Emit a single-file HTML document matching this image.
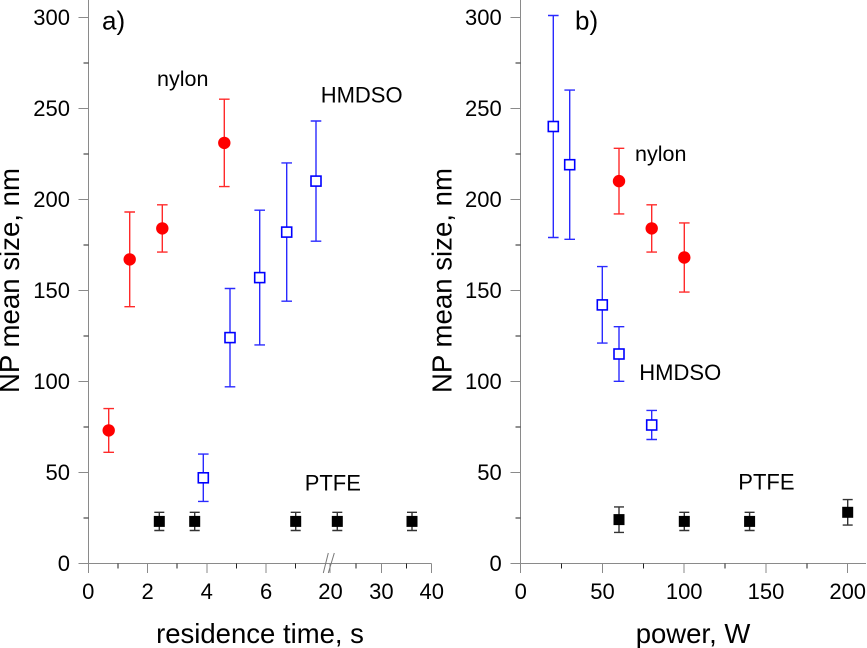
<!DOCTYPE html>
<html>
<head>
<meta charset="utf-8">
<style>
  html, body { margin:0; padding:0; background:#fff; }
  svg { display:block; }
  text { font-family: "Liberation Sans", Arial, sans-serif; fill:#000; }
</style>
</head>
<body>
<svg width="867" height="648" viewBox="0 0 867 648" xmlns="http://www.w3.org/2000/svg">
  <rect x="0" y="0" width="867" height="648" fill="#fff"/>

  <!-- ================= LEFT PANEL ================= -->
  <g shape-rendering="crispEdges">
    <line x1="88.3" y1="0" x2="88.3" y2="573" stroke="#8a8a8a" stroke-width="1"/>
    <line x1="78.3" y1="563.3" x2="431.7" y2="563.3" stroke="#8a8a8a" stroke-width="1"/>
    <g stroke="#8a8a8a" stroke-width="1">
      <line x1="78.3" y1="17.3" x2="88.3" y2="17.3"/>
      <line x1="78.3" y1="108.3" x2="88.3" y2="108.3"/>
      <line x1="78.3" y1="199.3" x2="88.3" y2="199.3"/>
      <line x1="78.3" y1="290.3" x2="88.3" y2="290.3"/>
      <line x1="78.3" y1="381.3" x2="88.3" y2="381.3"/>
      <line x1="78.3" y1="472.3" x2="88.3" y2="472.3"/>
    </g>
    <g stroke="#222" stroke-width="1">
      <line x1="83.3" y1="62.8" x2="88.3" y2="62.8"/>
      <line x1="83.3" y1="153.8" x2="88.3" y2="153.8"/>
      <line x1="83.3" y1="244.8" x2="88.3" y2="244.8"/>
      <line x1="83.3" y1="335.8" x2="88.3" y2="335.8"/>
      <line x1="83.3" y1="426.8" x2="88.3" y2="426.8"/>
      <line x1="83.3" y1="517.8" x2="88.3" y2="517.8"/>
    </g>
    <g stroke="#8a8a8a" stroke-width="1">
      <line x1="147.6" y1="563.3" x2="147.6" y2="573"/>
      <line x1="206.8" y1="563.3" x2="206.8" y2="573"/>
      <line x1="266.1" y1="563.3" x2="266.1" y2="573"/>
      <line x1="330" y1="563.3" x2="330" y2="573"/>
      <line x1="381.4" y1="563.3" x2="381.4" y2="573"/>
      <line x1="431.7" y1="563.3" x2="431.7" y2="573"/>
    </g>
    <g stroke="#222" stroke-width="1">
      <line x1="117.9" y1="563.3" x2="117.9" y2="568.3"/>
      <line x1="177.2" y1="563.3" x2="177.2" y2="568.3"/>
      <line x1="236.5" y1="563.3" x2="236.5" y2="568.3"/>
      <line x1="295.7" y1="563.3" x2="295.7" y2="568.3"/>
      <line x1="356.2" y1="563.3" x2="356.2" y2="568.3"/>
      <line x1="406.6" y1="563.3" x2="406.6" y2="568.3"/>
    </g>
  </g>
  <g stroke="#777" stroke-width="1">
    <line x1="323.3" y1="573" x2="328.3" y2="553"/>
    <line x1="328.3" y1="573" x2="334.3" y2="553"/>
  </g>

  <g font-size="22" text-anchor="end">
    <text x="70" y="25">300</text>
    <text x="70" y="116">250</text>
    <text x="70" y="207">200</text>
    <text x="70" y="298">150</text>
    <text x="70" y="389">100</text>
    <text x="70" y="480">50</text>
    <text x="70" y="571">0</text>
  </g>
  <g font-size="22" text-anchor="middle">
    <text x="88.3" y="599">0</text>
    <text x="147.6" y="599">2</text>
    <text x="206.8" y="599">4</text>
    <text x="266.1" y="599">6</text>
    <text x="330.5" y="599">20</text>
    <text x="381.4" y="599">30</text>
    <text x="431.7" y="599">40</text>
  </g>
  <text x="260" y="643" font-size="27.5" text-anchor="middle">residence time, s</text>
  <text transform="translate(19,280.5) rotate(-90)" font-size="27.5" text-anchor="middle" textLength="225" lengthAdjust="spacingAndGlyphs">NP mean size, nm</text>
  <text x="102" y="29.5" font-size="26">a)</text>
  <text x="157" y="86" font-size="21.5">nylon</text>
  <text x="320.7" y="102.3" font-size="22">HMDSO</text>
  <text x="304.7" y="490.7" font-size="22">PTFE</text>

  <g stroke="#ff2a2a" stroke-width="1.4" fill="none">
    <path d="M108.7 452.3V408.6M103.4 452.3h10.6M103.4 408.6h10.6"/>
    <path d="M129.7 306.7V212M124.4 306.7h10.6M124.4 212h10.6"/>
    <path d="M162.3 252.1V204.8M157 252.1h10.6M157 204.8h10.6"/>
    <path d="M224.3 186.6V99.2M219 186.6h10.6M219 99.2h10.6"/>
  </g>
  <g fill="#ff0000">
    <circle cx="108.7" cy="430.4" r="6.2"/>
    <circle cx="129.7" cy="259.4" r="6.2"/>
    <circle cx="162.3" cy="228.4" r="6.2"/>
    <circle cx="224.3" cy="142.9" r="6.2"/>
  </g>

  <g stroke="#2a2aff" stroke-width="1.4" fill="none">
    <path d="M203.3 501.4V454.1M198 501.4h10.6M198 454.1h10.6"/>
    <path d="M230 386.8V288.5M224.7 386.8h10.6M224.7 288.5h10.6"/>
    <path d="M259.7 344.9V210.2M254.4 344.9h10.6M254.4 210.2h10.6"/>
    <path d="M286.7 301.2V162.9M281.4 301.2h10.6M281.4 162.9h10.6"/>
    <path d="M316 241.2V121M310.7 241.2h10.6M310.7 121h10.6"/>
  </g>
  <g stroke="#0000ff" stroke-width="1.6" fill="#fff">
    <rect x="198.3" y="472.8" width="10" height="10"/>
    <rect x="225" y="332.6" width="10" height="10"/>
    <rect x="254.7" y="272.6" width="10" height="10"/>
    <rect x="281.7" y="227.1" width="10" height="10"/>
    <rect x="311" y="176.1" width="10" height="10"/>
  </g>

  <g stroke="#333" stroke-width="1.4" fill="none">
    <path d="M159.3 530.5V512.3M154.3 530.5h10M154.3 512.3h10"/>
    <path d="M194.7 530.5V512.3M189.7 530.5h10M189.7 512.3h10"/>
    <path d="M295.7 530.5V512.3M290.7 530.5h10M290.7 512.3h10"/>
    <path d="M337.3 530.5V512.3M332.3 530.5h10M332.3 512.3h10"/>
    <path d="M412 530.5V512.3M407 530.5h10M407 512.3h10"/>
  </g>
  <g fill="#000">
    <rect x="153.8" y="515.9" width="11" height="11"/>
    <rect x="189.2" y="515.9" width="11" height="11"/>
    <rect x="290.2" y="515.9" width="11" height="11"/>
    <rect x="331.8" y="515.9" width="11" height="11"/>
    <rect x="406.5" y="515.9" width="11" height="11"/>
  </g>

  <!-- ================= RIGHT PANEL ================= -->
  <g shape-rendering="crispEdges">
    <line x1="520.7" y1="0" x2="520.7" y2="573" stroke="#8a8a8a" stroke-width="1"/>
    <line x1="510.7" y1="563.3" x2="866" y2="563.3" stroke="#8a8a8a" stroke-width="1"/>
    <g stroke="#8a8a8a" stroke-width="1">
      <line x1="510.7" y1="17.3" x2="520.7" y2="17.3"/>
      <line x1="510.7" y1="108.3" x2="520.7" y2="108.3"/>
      <line x1="510.7" y1="199.3" x2="520.7" y2="199.3"/>
      <line x1="510.7" y1="290.3" x2="520.7" y2="290.3"/>
      <line x1="510.7" y1="381.3" x2="520.7" y2="381.3"/>
      <line x1="510.7" y1="472.3" x2="520.7" y2="472.3"/>
    </g>
    <g stroke="#222" stroke-width="1">
      <line x1="515.7" y1="62.8" x2="520.7" y2="62.8"/>
      <line x1="515.7" y1="153.8" x2="520.7" y2="153.8"/>
      <line x1="515.7" y1="244.8" x2="520.7" y2="244.8"/>
      <line x1="515.7" y1="335.8" x2="520.7" y2="335.8"/>
      <line x1="515.7" y1="426.8" x2="520.7" y2="426.8"/>
      <line x1="515.7" y1="517.8" x2="520.7" y2="517.8"/>
    </g>
    <g stroke="#8a8a8a" stroke-width="1">
      <line x1="602.5" y1="563.3" x2="602.5" y2="573"/>
      <line x1="684.2" y1="563.3" x2="684.2" y2="573"/>
      <line x1="766" y1="563.3" x2="766" y2="573"/>
      <line x1="847.7" y1="563.3" x2="847.7" y2="573"/>
    </g>
    <g stroke="#222" stroke-width="1">
      <line x1="561.6" y1="563.3" x2="561.6" y2="568.3"/>
      <line x1="643.3" y1="563.3" x2="643.3" y2="568.3"/>
      <line x1="725.1" y1="563.3" x2="725.1" y2="568.3"/>
      <line x1="806.8" y1="563.3" x2="806.8" y2="568.3"/>
    </g>
  </g>

  <g font-size="22" text-anchor="end">
    <text x="501.7" y="25">300</text>
    <text x="501.7" y="116">250</text>
    <text x="501.7" y="207">200</text>
    <text x="501.7" y="298">150</text>
    <text x="501.7" y="389">100</text>
    <text x="501.7" y="480">50</text>
    <text x="501.7" y="571">0</text>
  </g>
  <g font-size="22" text-anchor="middle">
    <text x="520.7" y="599">0</text>
    <text x="602.5" y="599">50</text>
    <text x="684.2" y="599">100</text>
    <text x="766" y="599">150</text>
    <text x="847.7" y="599">200</text>
  </g>
  <text x="693" y="643" font-size="27.5" text-anchor="middle">power, W</text>
  <text transform="translate(451.4,280.5) rotate(-90)" font-size="27.5" text-anchor="middle" textLength="225" lengthAdjust="spacingAndGlyphs">NP mean size, nm</text>
  <text x="575" y="29.5" font-size="26">b)</text>
  <text x="635" y="161" font-size="21.5">nylon</text>
  <text x="639.3" y="380" font-size="22">HMDSO</text>
  <text x="738.3" y="489.3" font-size="22">PTFE</text>

  <g stroke="#2a2aff" stroke-width="1.4" fill="none">
    <path d="M553.3 237.5V15.5M548 237.5h10.6M548 15.5h10.6"/>
    <path d="M569.7 239.3V90.1M564.4 239.3h10.6M564.4 90.1h10.6"/>
    <path d="M602.3 343.1V266.6M597 343.1h10.6M597 266.6h10.6"/>
    <path d="M619 381.3V326.7M613.7 381.3h10.6M613.7 326.7h10.6"/>
    <path d="M651.7 439.5V410.4M646.4 439.5h10.6M646.4 410.4h10.6"/>
  </g>
  <g stroke="#0000ff" stroke-width="1.6" fill="#fff">
    <rect x="548.3" y="121.5" width="10" height="10"/>
    <rect x="564.7" y="159.7" width="10" height="10"/>
    <rect x="597.3" y="299.9" width="10" height="10"/>
    <rect x="614" y="349" width="10" height="10"/>
    <rect x="646.7" y="420" width="10" height="10"/>
  </g>

  <g stroke="#ff2a2a" stroke-width="1.4" fill="none">
    <path d="M619 213.9V148.3M613.7 213.9h10.6M613.7 148.3h10.6"/>
    <path d="M651.7 252.1V204.8M646.4 252.1h10.6M646.4 204.8h10.6"/>
    <path d="M684.3 292.1V222.9M679 292.1h10.6M679 222.9h10.6"/>
  </g>
  <g fill="#ff0000">
    <circle cx="619" cy="181.1" r="6.2"/>
    <circle cx="651.7" cy="228.4" r="6.2"/>
    <circle cx="684.3" cy="257.5" r="6.2"/>
  </g>

  <g stroke="#333" stroke-width="1.4" fill="none">
    <path d="M619 532.4V506.9M614 532.4h10M614 506.9h10"/>
    <path d="M684.3 530.5V512.3M679.3 530.5h10M679.3 512.3h10"/>
    <path d="M749.6 530.5V512.3M744.6 530.5h10M744.6 512.3h10"/>
    <path d="M847.7 525.1V499.6M842.7 525.1h10M842.7 499.6h10"/>
  </g>
  <g fill="#000">
    <rect x="613.5" y="514.1" width="11" height="11"/>
    <rect x="678.8" y="515.9" width="11" height="11"/>
    <rect x="744.1" y="515.9" width="11" height="11"/>
    <rect x="842.2" y="506.8" width="11" height="11"/>
  </g>
</svg>
</body>
</html>
